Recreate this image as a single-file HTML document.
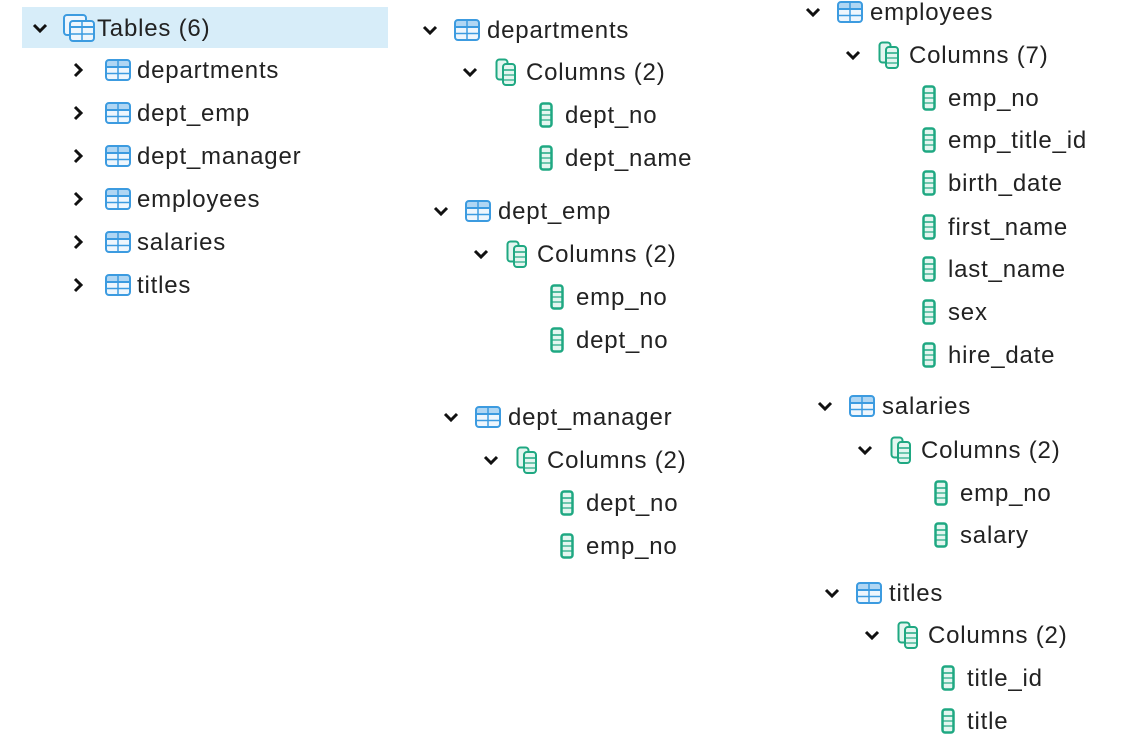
<!DOCTYPE html>
<html><head><meta charset="utf-8"><style>
body{margin:0;width:1138px;height:754px;background:#fff;position:relative;overflow:hidden;font-family:"Liberation Sans",sans-serif;}
.hl{position:absolute;left:22px;top:7px;width:366px;height:41px;background:#d7edf9;}
.t{position:absolute;font-size:24px;letter-spacing:0.8px;color:#222;line-height:30px;height:30px;white-space:nowrap;}
svg{position:absolute;}
</style></head><body>
<div class="hl"></div>
<div id="c"></div>
<script>
var h='';
function chev(x,cy,down){
 if(down) h+='<svg style="left:'+(x-8)+'px;top:'+(cy-6)+'px" width="16" height="12"><path d="M2 3 L8 9 L14 3" fill="none" stroke="#111" stroke-width="3"/></svg>';
 else h+='<svg style="left:'+(x-6)+'px;top:'+(cy-8)+'px" width="12" height="16"><path d="M3 2 L9 8 L3 14" fill="none" stroke="#111" stroke-width="3"/></svg>';
}
function tbl(x,cy){
 h+='<svg style="left:'+x+'px;top:'+(cy-11)+'px" width="26" height="22"><rect x="1" y="1" width="24" height="20" rx="3" fill="#eef6fd" stroke="#3c9be0" stroke-width="2"/><rect x="2" y="2" width="22" height="5" fill="#3c9be0" opacity=".35"/><line x1="1" y1="8" x2="25" y2="8" stroke="#3c9be0" stroke-width="2"/><line x1="1" y1="14.5" x2="25" y2="14.5" stroke="#3c9be0" stroke-width="1.5"/><line x1="13" y1="1" x2="13" y2="21" stroke="#3c9be0" stroke-width="1.5"/></svg>';
}
function tbls(x,cy){
 h+='<svg style="left:'+x+'px;top:'+(cy-14)+'px" width="32" height="28"><rect x="1" y="1" width="22" height="20" rx="3" fill="#eef6fd" stroke="#3c9be0" stroke-width="2"/><rect x="7" y="7" width="24" height="20" rx="3" fill="#eef6fd" stroke="#3c9be0" stroke-width="2"/><line x1="7" y1="13" x2="31" y2="13" stroke="#3c9be0" stroke-width="2"/><line x1="7" y1="20" x2="31" y2="20" stroke="#3c9be0" stroke-width="1.5"/><line x1="19" y1="7" x2="19" y2="27" stroke="#3c9be0" stroke-width="1.5"/></svg>';
}
function col(x,cy){
 h+='<svg style="left:'+x+'px;top:'+(cy-13)+'px" width="14" height="26"><rect x="1.5" y="1.5" width="11" height="23" rx="2.5" fill="#e4f6f0" stroke="#1fa882" stroke-width="2.5"/><line x1="2" y1="8" x2="12" y2="8" stroke="#1fa882" stroke-width="1.5"/><line x1="2" y1="13" x2="12" y2="13" stroke="#1fa882" stroke-width="1.2"/><line x1="2" y1="18" x2="12" y2="18" stroke="#1fa882" stroke-width="1.2"/></svg>';
}
function cols(x,cy){
 h+='<svg style="left:'+x+'px;top:'+(cy-14)+'px" width="22" height="28"><rect x="1.5" y="1.5" width="11" height="20" rx="3" fill="#e4f6f0" stroke="#1fa882" stroke-width="2"/><rect x="8" y="6" width="12" height="21" rx="3" fill="#e4f6f0" stroke="#1fa882" stroke-width="2"/><line x1="8" y1="12" x2="20" y2="12" stroke="#1fa882" stroke-width="1.5"/><line x1="8" y1="17" x2="20" y2="17" stroke="#1fa882" stroke-width="1.2"/><line x1="8" y1="22" x2="20" y2="22" stroke="#1fa882" stroke-width="1.2"/></svg>';
}
function txt(x,cy,s){h+='<div class="t" style="left:'+x+'px;top:'+(cy-14)+'px">'+s+'</div>';}
chev(40,28,1);tbls(63,28);txt(97,28,'Tables (6)');
['departments','dept_emp','dept_manager','employees','salaries','titles'].forEach(function(n,i){var cy=[70,113,156,199,242,285][i];chev(78,cy,0);tbl(105,cy);txt(137,cy,n);});
function group(tx,tcy,name,cy0,colsArr,step){
 chev(tx,tcy,1);tbl(tx+24,tcy);txt(tx+57,tcy,name);
 var cx=tx+40,ccy=tcy+cy0;
 chev(cx,ccy,1);cols(cx+25,ccy);txt(cx+56,ccy,'Columns ('+colsArr.length+')');
 colsArr.forEach(function(c,i){var y=ccy+43*(i+1)+(step?step[i]:0);col(cx+69,y);txt(cx+95,y,c);});
}
group(430,30,'departments',42,['dept_no','dept_name']);
group(441,211,'dept_emp',43,['emp_no','dept_no']);
group(451,417,'dept_manager',43,['dept_no','emp_no']);
group(813,12,'employees',43,['emp_no','emp_title_id','birth_date','first_name','last_name','sex','hire_date'],[0,-1,-1,0,-1,-1,-1]);
group(825,406,'salaries',44,['emp_no','salary'],[0,-1]);
group(832,593,'titles',42,['title_id','title']);
document.getElementById('c').innerHTML=h;
</script>
</body></html>
